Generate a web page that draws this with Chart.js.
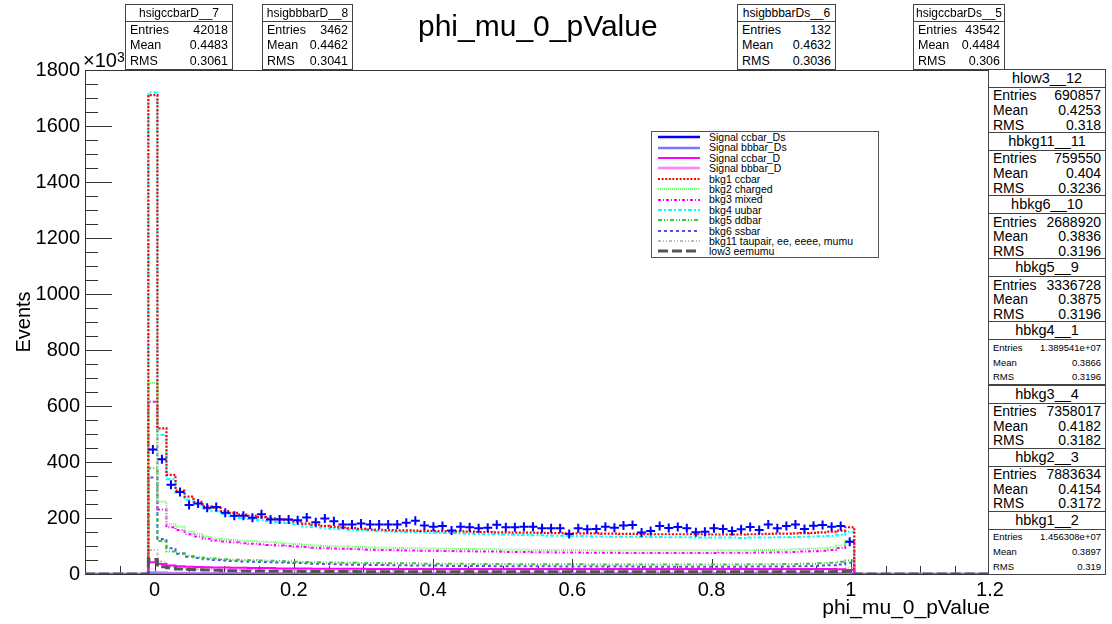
<!DOCTYPE html>
<html>
<head>
<meta charset="utf-8">
<script src="https://cdn.jsdelivr.net/npm/chart.js@4.4.0/dist/chart.umd.min.js"></script>
<style>
  body { margin: 0; background: #fff; font-family: "Liberation Sans", Arial, sans-serif; }
  #wrap { position: relative; width: 1112px; height: 624px; overflow: hidden; }
  #c { position: absolute; left: 0; top: 0; }
  .stat { position: absolute; background: #fff; border: 1px solid #444; box-sizing: border-box;
          display: flex; flex-direction: column; color: #000; overflow: hidden; }
  .stat .hd { text-align: center; border-bottom: 1px solid #444; white-space: nowrap; }
  .stat .row { flex: 1; display: flex; justify-content: space-between; align-items: center;
               padding: 0 4px; line-height: 1; }
  .top { font-size: 12.5px; }
  .top .hd { height: 16px; line-height: 16px; font-size: 12px; }
  .side { font-size: 14px; }
  .side .hd { height: 17px; line-height: 17px; font-size: 14.5px; }
  .side.small .row { font-size: 9.5px; }
  #title { position: absolute; left: 418px; top: 8px; font-size: 30px; line-height: 36px; }
  #expo { position: absolute; left: 83px; top: 48px; font-size: 20px; line-height: 24px; }
  #expo sup { font-size: 14px; position: relative; top: -3px; vertical-align: top; }
  #legend { position: absolute; left: 651px; top: 131px; width: 228px; height: 127px; border: 1px solid #555;
            box-sizing: border-box; background: #fff; padding-top: 0px; }
  #legend .li { height: 10.4px; line-height: 10.4px; display: flex; align-items: center; font-size: 10.5px; white-space: nowrap; }
  #legend svg { margin-left: 6px; margin-right: 9px; }
</style>
</head>
<body>
<div id="wrap">
  <canvas id="c" width="1112" height="624"></canvas>
  <div id="title">phi_mu_0_pValue</div>
  <div id="expo">&times;10<sup>3</sup></div>
  <div id="legend"></div>
</div>
<script>
// ===============================
// Histogram data (units of 10^3 events)
// 100 bins on [-0.1, 1.2]; filled bins start at -0.009
// ===============================
const xMin = -0.1, xMax = 1.2;
const binLo = -0.009, binW = 0.013;

const xTickVals = [0, 0.2, 0.4, 0.6, 0.8, 1, 1.2];
const xTickLabels = ["0", "0.2", "0.4", "0.6", "0.8", "1", "1.2"];
const yTickVals = [0, 200, 400, 600, 800, 1000, 1200, 1400, 1600, 1800];
const yTickLabels = ["0", "200", "400", "600", "800", "1000", "1200", "1400", "1600", "1800"];

// Signal ccbar_Ds, drawn as crosses
const sigCcbarDs = [
  445, 410, 319, 293, 246, 252, 237, 239, 219, 208,
  208, 201, 213, 195, 195, 195, 192, 202, 185, 198,
  188, 177, 177, 180, 177, 177, 177, 177, 183, 190,
  173, 169, 171, 155, 169, 167, 163, 165, 176, 167,
  167, 169, 169, 163, 163, 163, 143, 163, 160, 161,
  169, 165, 173, 175, 148, 154, 171, 164, 168, 163,
  149, 151, 163, 161, 154, 160, 168, 157, 177, 163,
  171, 177, 161, 172, 175, 169, 171, 115
];
const sigBbbarDs = [
  2, 1, 1, 1, 1, 1, 1, 1, 1, 1,
  1, 1, 1, 1, 1, 1, 1, 1, 1, 1,
  1, 1, 1, 1, 1, 1, 1, 1, 1, 1,
  1, 1, 1, 1, 1, 1, 1, 1, 1, 1,
  1, 1, 1, 1, 1, 1, 1, 1, 1, 1,
  1, 1, 1, 1, 1, 1, 1, 1, 1, 1,
  1, 1, 1, 1, 1, 1, 1, 1, 1, 1,
  1, 1, 1, 1, 1, 1, 1, 1
];
const sigCcbarD = [
  42, 36, 30, 28, 26, 25, 24, 23, 23, 22,
  22, 21, 21, 21, 20, 20, 20, 20, 19, 19,
  19, 19, 19, 19, 18, 18, 18, 18, 18, 18,
  18, 18, 18, 18, 18, 18, 18, 18, 18, 18,
  18, 18, 18, 18, 18, 18, 18, 18, 18, 18,
  18, 18, 18, 18, 18, 18, 18, 18, 18, 18,
  18, 18, 18, 18, 18, 18, 18, 18, 18, 18,
  18, 18, 18, 18, 18, 18, 17, 14
];
const sigBbbarD = [
  6, 5, 4, 4, 4, 3, 3, 3, 3, 3,
  3, 3, 3, 3, 3, 3, 3, 3, 3, 3,
  3, 3, 3, 3, 3, 3, 3, 3, 3, 3,
  3, 3, 3, 3, 3, 3, 3, 3, 3, 3,
  3, 3, 3, 3, 3, 3, 3, 3, 3, 3,
  3, 3, 3, 3, 3, 3, 3, 3, 3, 3,
  3, 3, 3, 3, 3, 3, 3, 3, 3, 3,
  3, 3, 3, 3, 3, 3, 3, 2
];
const bkg1Ccbar = [
  1710, 520, 354, 298, 276, 258, 242, 236, 225, 218,
  212, 208, 203, 199, 196, 193, 188, 180, 176, 172,
  168, 166, 164, 161, 159, 158, 157, 156, 156, 155,
  154, 154, 153, 152, 152, 151, 150, 150, 149, 149,
  148, 148, 148, 147, 146, 146, 145, 145, 145, 145,
  144, 144, 143, 143, 142, 142, 142, 142, 142, 142,
  142, 142, 141, 141, 141, 141, 142, 142, 143, 144,
  144, 145, 146, 147, 149, 151, 155, 167
];
const bkg2Charged = [
  682, 258, 178, 169, 151, 143, 133, 127, 124, 121,
  119, 117, 115, 113, 111, 109, 107, 104, 102, 100,
  99, 98, 97, 96, 95, 94, 94, 93, 92, 92,
  91, 91, 90, 90, 89, 89, 88, 88, 88, 87,
  87, 87, 86, 86, 86, 85, 85, 85, 85, 84,
  84, 84, 84, 84, 84, 84, 84, 84, 84, 84,
  84, 84, 84, 85, 85, 85, 85, 86, 86, 87,
  87, 88, 89, 90, 92, 95, 102, 120
];
const bkg3Mixed = [
  615, 230, 167, 157, 142, 134, 126, 120, 116, 113,
  110, 108, 106, 104, 102, 100, 98, 96, 94, 92,
  91, 90, 89, 88, 87, 86, 86, 85, 84, 84,
  83, 83, 82, 82, 81, 81, 80, 80, 80, 79,
  79, 79, 78, 78, 78, 77, 77, 77, 76, 76,
  76, 76, 75, 75, 75, 75, 75, 75, 75, 75,
  75, 75, 75, 76, 76, 76, 76, 77, 77, 78,
  78, 79, 80, 81, 83, 86, 93, 115
];
const bkg4Uubar = [
  1720, 496, 338, 290, 265, 246, 232, 224, 214, 206,
  200, 196, 192, 188, 185, 182, 178, 170, 168, 165,
  162, 160, 158, 156, 155, 153, 152, 151, 150, 149,
  148, 147, 146, 146, 145, 144, 143, 142, 142, 141,
  140, 139, 138, 138, 137, 137, 136, 136, 135, 134,
  134, 133, 133, 133, 132, 132, 132, 131, 131, 131,
  130, 130, 130, 130, 130, 129, 130, 130, 130, 131,
  131, 132, 133, 134, 135, 137, 140, 151
];
const bkg5Ddbar = [
  378, 118, 80, 74, 64, 60, 57, 55, 53, 51,
  50, 49, 48, 47, 46, 45, 44, 43, 42, 41,
  41, 40, 40, 39, 39, 39, 38, 38, 38, 38,
  37, 37, 37, 37, 37, 36, 36, 36, 36, 36,
  36, 35, 35, 35, 35, 35, 35, 35, 34, 34,
  34, 34, 34, 34, 34, 34, 34, 34, 34, 34,
  34, 34, 34, 34, 34, 34, 35, 35, 35, 35,
  36, 36, 37, 37, 38, 40, 44, 48
];
const bkg6Ssbar = [
  345, 125, 92, 72, 62, 57, 53, 50, 48, 46,
  45, 44, 43, 42, 41, 40, 39, 38, 37, 36,
  35, 34, 33, 33, 32, 32, 31, 31, 31, 30,
  30, 30, 30, 29, 29, 29, 29, 29, 28, 28,
  28, 28, 28, 28, 28, 27, 27, 27, 27, 27,
  27, 27, 27, 27, 26, 26, 26, 26, 26, 26,
  26, 26, 26, 26, 26, 26, 27, 27, 27, 27,
  27, 28, 28, 29, 30, 31, 34, 40
];
const bkg11Tau = [
  86, 45, 26, 21, 18, 17, 16, 15, 15, 14,
  14, 14, 13, 13, 13, 13, 13, 13, 12, 12,
  12, 12, 12, 12, 12, 12, 12, 12, 12, 12,
  12, 12, 12, 12, 12, 12, 12, 12, 12, 12,
  12, 12, 12, 12, 12, 12, 12, 12, 12, 12,
  12, 12, 12, 12, 12, 12, 12, 12, 12, 12,
  12, 12, 12, 12, 12, 12, 12, 12, 12, 12,
  12, 12, 12, 13, 13, 14, 16, 22
];
const low3Eemumu = [
  52, 26, 22, 18, 16, 15, 14, 13, 12, 12,
  11, 11, 11, 10, 10, 10, 10, 9, 9, 9,
  9, 9, 9, 8, 8, 8, 8, 8, 8, 8,
  8, 8, 8, 8, 8, 8, 8, 8, 8, 8,
  8, 8, 8, 8, 8, 8, 8, 8, 8, 8,
  8, 8, 8, 8, 8, 8, 8, 8, 8, 8,
  8, 8, 8, 8, 8, 8, 8, 8, 8, 8,
  8, 8, 8, 8, 8, 8, 9, 10
];

// ===============================
// Stat box contents
// ===============================
const topStatNames = ["hsigccbarD__7", "hsigbbbarD__8", "hsigbbbarDs__6", "hsigccbarDs__5"];
const topStatEntries = ["42018", "3462", "132", "43542"];
const topStatMeans = ["0.4483", "0.4462", "0.4632", "0.4484"];
const topStatRms = ["0.3061", "0.3041", "0.3036", "0.306"];

const sideStatNames = ["hlow3__12", "hbkg11__11", "hbkg6__10", "hbkg5__9", "hbkg4__1", "hbkg3__4", "hbkg2__3", "hbkg1__2"];
const sideStatEntries = ["690857", "759550", "2688920", "3336728", "1.389541e+07", "7358017", "7883634", "1.456308e+07"];
const sideStatMeans = ["0.4253", "0.404", "0.3836", "0.3875", "0.3866", "0.4182", "0.4154", "0.3897"];
const sideStatRms = ["0.318", "0.3236", "0.3196", "0.3196", "0.3196", "0.3182", "0.3172", "0.319"];

// ===============================
// Helpers
// ===============================
function histPoints(vals) {
    const pts = [{ x: xMin, y: 0 }];
    vals.forEach((v, k) => pts.push({ x: binLo + k * binW, y: v }));
    pts.push({ x: binLo + vals.length * binW, y: 0 });
    pts.push({ x: xMax, y: 0 });
    return pts;
}

function centerPoints(vals) {
    return vals.map((v, k) => ({ x: binLo + (k + 0.5) * binW, y: v }));
}

function hist(label, vals, color, width, dash, order) {
    return {
        label: label,
        data: histPoints(vals),
        borderColor: color,
        borderWidth: width,
        borderDash: dash,
        stepped: true,
        pointRadius: 0,
        fill: false,
        order: order || 0
    };
}

// legend order (as in the box)
const datasets = [
    {
        label: "Signal ccbar_Ds",
        data: centerPoints(sigCcbarDs),
        showLine: false,
        borderColor: "#0000ff",
        pointStyle: "cross",
        pointRadius: 4.5,
        pointBorderWidth: 2,
        pointBorderColor: "#0000ff",
        legendWidth: 2.5,
        legendDash: []
    },
    hist("Signal bbbar_Ds", sigBbbarDs, "#7777ff", 2.5, []),
    hist("Signal ccbar_D", sigCcbarD, "#ff00ff", 2, []),
    hist("Signal bbbar_D", sigBbbarD, "#ff80ff", 2.5, []),
    hist("bkg1 ccbar", bkg1Ccbar, "#ff0000", 2.2, [2, 1.6]),
    hist("bkg2 charged", bkg2Charged, "#66ff66", 2, [1, 1]),
    hist("bkg3 mixed", bkg3Mixed, "#ff00ff", 2, [3, 2, 1, 2]),
    hist("bkg4 uubar", bkg4Uubar, "#00ffff", 2, [4, 2, 2, 2]),
    hist("bkg5 ddbar", bkg5Ddbar, "#33cc33", 2, [4, 2, 1, 2, 1, 2]),
    hist("bkg6 ssbar", bkg6Ssbar, "#5050ee", 2, [3, 3]),
    hist("bkg11 taupair, ee, eeee, mumu", bkg11Tau, "#c4b8b0", 2, [3, 2, 1, 2, 1, 2]),
    hist("low3 eemumu", low3Eemumu, "#555555", 3, [10, 4], -1)
];

// ===============================
// ROOT-like frame with inward ticks
// ===============================
const rootFrame = {
    id: "rootFrame",
    beforeDatasetsDraw(chart) {
        const { ctx, chartArea: a, scales: { x, y } } = chart;
        ctx.save();
        ctx.strokeStyle = "#333";
        ctx.lineWidth = 1;
        ctx.strokeRect(a.left + 0.5, a.top + 0.5, a.right - a.left, a.bottom - a.top);

        ctx.beginPath();
        // y axis: major every 200, minor every 50
        for (let v = 0; v <= 1800; v += 50) {
            const py = Math.round(y.getPixelForValue(v)) + 0.5;
            const len = v % 200 === 0 ? 27 : 13;
            ctx.moveTo(a.left, py);
            ctx.lineTo(a.left + len, py);
        }
        // x axis: major every 0.2, minor every 0.05
        for (let i = -2; i <= 24; i++) {
            const v = i * 0.05;
            const px = Math.round(x.getPixelForValue(v)) + 0.5;
            const len = i % 4 === 0 ? 15 : 8;
            ctx.moveTo(px, a.bottom);
            ctx.lineTo(px, a.bottom - len);
        }
        ctx.stroke();
        ctx.restore();
    }
};

// ===============================
// Chart
// ===============================
const chart = new Chart(document.getElementById("c").getContext("2d"), {
    type: "line",
    data: { datasets: datasets },
    options: {
        responsive: false,
        devicePixelRatio: 1,
        animation: false,
        layout: { padding: { left: 0, right: 122, top: 70, bottom: 0 } },
        plugins: {
            legend: { display: false },
            tooltip: { enabled: false }
        },
        scales: {
            x: {
                type: "linear",
                min: xMin,
                max: xMax,
                grid: { display: false, drawTicks: false },
                border: { display: false },
                afterBuildTicks: s => { s.ticks = xTickVals.map(v => ({ value: v })); },
                afterFit: s => { s.height = 50; },
                ticks: {
                    color: "#000",
                    font: { family: "Liberation Sans", size: 20 },
                    padding: 4,
                    maxRotation: 0,
                    autoSkip: false,
                    callback: v => xTickLabels[xTickVals.indexOf(v)]
                },
                title: {
                    display: true,
                    text: "phi_mu_0_pValue",
                    align: "end",
                    color: "#000",
                    font: { family: "Liberation Sans", size: 21 },
                    padding: { top: 0, bottom: 3 }
                }
            },
            y: {
                type: "linear",
                min: 0,
                max: 1800,
                grid: { display: false, drawTicks: false },
                border: { display: false },
                afterBuildTicks: s => { s.ticks = yTickVals.map(v => ({ value: v })); },
                afterFit: s => { s.width = 85; },
                ticks: {
                    color: "#000",
                    font: { family: "Liberation Sans", size: 20 },
                    padding: 5,
                    callback: v => yTickLabels[yTickVals.indexOf(v)]
                },
                title: {
                    display: true,
                    text: "Events",
                    color: "#000",
                    font: { family: "Liberation Sans", size: 20 },
                    padding: { top: 12, bottom: 0 }
                }
            }
        }
    },
    plugins: [rootFrame]
});

// ===============================
// Legend (HTML, built from datasets)
// ===============================
const legendEl = document.getElementById("legend");
datasets.forEach(ds => {
    const w = ds.legendWidth || ds.borderWidth;
    const dash = (ds.legendDash || ds.borderDash || []).join(",");
    const row = document.createElement("div");
    row.className = "li";
    row.innerHTML =
        `<svg width="42" height="6"><line x1="0" y1="3" x2="42" y2="3" stroke="${ds.borderColor}" ` +
        `stroke-width="${w}" stroke-dasharray="${dash}"/></svg><span>${ds.label}</span>`;
    legendEl.appendChild(row);
});

// ===============================
// Stat boxes
// ===============================
const topBoxPos = [[125, 4, 108, 66], [262, 4, 91, 66], [737, 4, 99, 66], [913, 4, 92, 66]];
const sideBox = { left: 988, top: 69, width: 118, height: 63.1 };

function statBox(cls, name, ent, mean, rms, left, top, width, height) {
    const d = document.createElement("div");
    d.className = "stat " + cls;
    d.style.left = left + "px";
    d.style.top = top + "px";
    d.style.width = width + "px";
    d.style.height = height + "px";
    d.innerHTML =
        `<div class="hd">${name}</div>` +
        `<div class="row"><span>Entries</span><span>${ent}</span></div>` +
        `<div class="row"><span>Mean</span><span>${mean}</span></div>` +
        `<div class="row"><span>RMS</span><span>${rms}</span></div>`;
    document.getElementById("wrap").appendChild(d);
}

topStatNames.forEach((n, i) => {
    const p = topBoxPos[i];
    statBox("top", n, topStatEntries[i], topStatMeans[i], topStatRms[i], p[0], p[1], p[2], p[3]);
});

sideStatNames.forEach((n, i) => {
    const small = sideStatEntries[i].indexOf("e+") >= 0 ? " small" : "";
    statBox("side" + small, n, sideStatEntries[i], sideStatMeans[i], sideStatRms[i],
        sideBox.left, sideBox.top + i * sideBox.height, sideBox.width, sideBox.height + 1);
});
</script>
</body>
</html>
